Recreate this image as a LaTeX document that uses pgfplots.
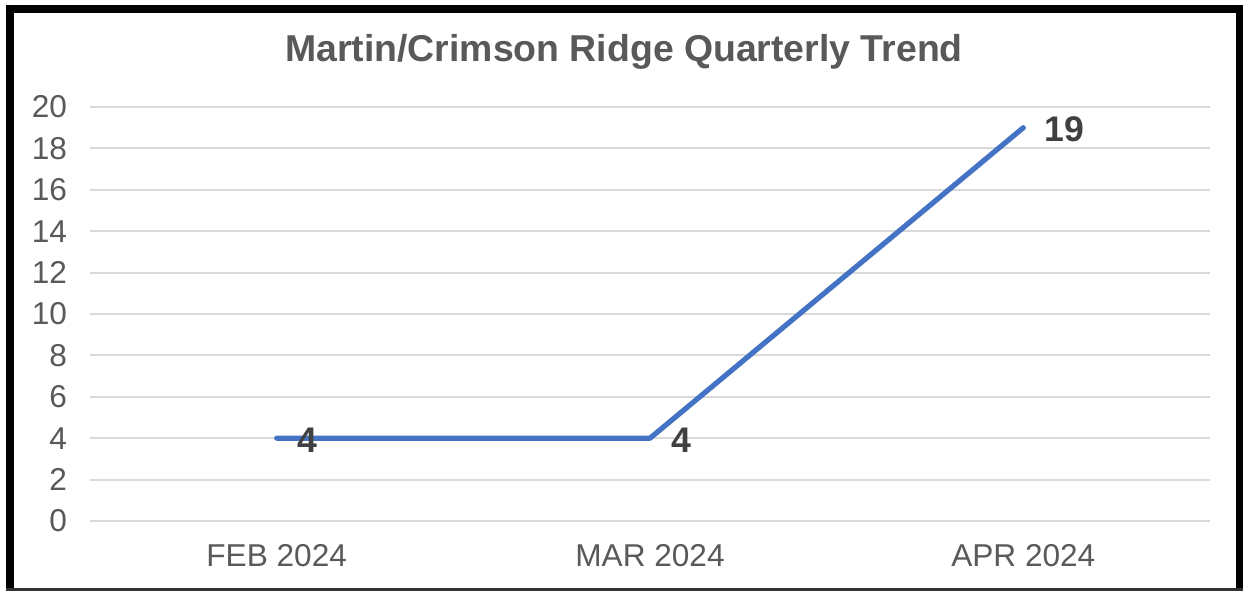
\documentclass[border=0pt]{standalone}
\usepackage{pgfplots}
\pgfplotsset{compat=1.18}
\usepackage{fontspec}
\setmainfont{Liberation Sans}
\definecolor{linecol}{HTML}{4472C4}
\definecolor{txtgray}{HTML}{595959}
\definecolor{lblgray}{HTML}{404040}
\definecolor{gridgray}{HTML}{D9D9D9}
\begin{document}
\begin{tikzpicture}
\useasboundingbox (0,0) rectangle (621.5pt,295.5pt);
\fill[white] (0,0) rectangle (621.5pt,295.5pt);
\begin{axis}[
  at={(45pt,35pt)}, anchor=south west,
  scale only axis, width=560pt, height=207pt,
  xmin=-0.5, xmax=2.5, ymin=0, ymax=20,
  xtick={0,1,2}, xticklabels={FEB 2024,MAR 2024,APR 2024},
  ytick={0,2,...,20},
  axis line style={draw=none},
  ymajorgrids, grid style={gridgray, line width=1pt},
  major tick length=0pt,
  tick label style={font=\fontsize{15.8}{18}\selectfont, text=txtgray},
  /pgf/number format/assume math mode=true,
  yticklabel style={xshift=-8pt},
  xticklabel style={yshift=-8pt},
  clip=false,
]
\addplot[linecol, line width=2.6pt, line cap=round, line join=round,
  nodes near coords, point meta=explicit symbolic,
  every node near coord/.append style={anchor=west, xshift=6pt, yshift=-1pt,
    font=\bfseries\fontsize{17.8}{20}\selectfont, text=lblgray}]
  table[meta=lab] {
  x y lab
  0 4 4
  1 4 4
  2 19 19
};
\end{axis}
\node[font=\bfseries\fontsize{18.7}{21}\selectfont, text=txtgray] at (312pt,269.5pt) {Martin/Crimson Ridge Quarterly Trend};
\draw[black, line width=4pt] (5pt,0.75pt) -- (5pt,291.25pt) -- (620pt,291.25pt) -- (620pt,0.75pt);
\draw[black!80, line width=1.2pt] (3pt,0.75pt) -- (622pt,0.75pt);
\end{tikzpicture}
\end{document}
